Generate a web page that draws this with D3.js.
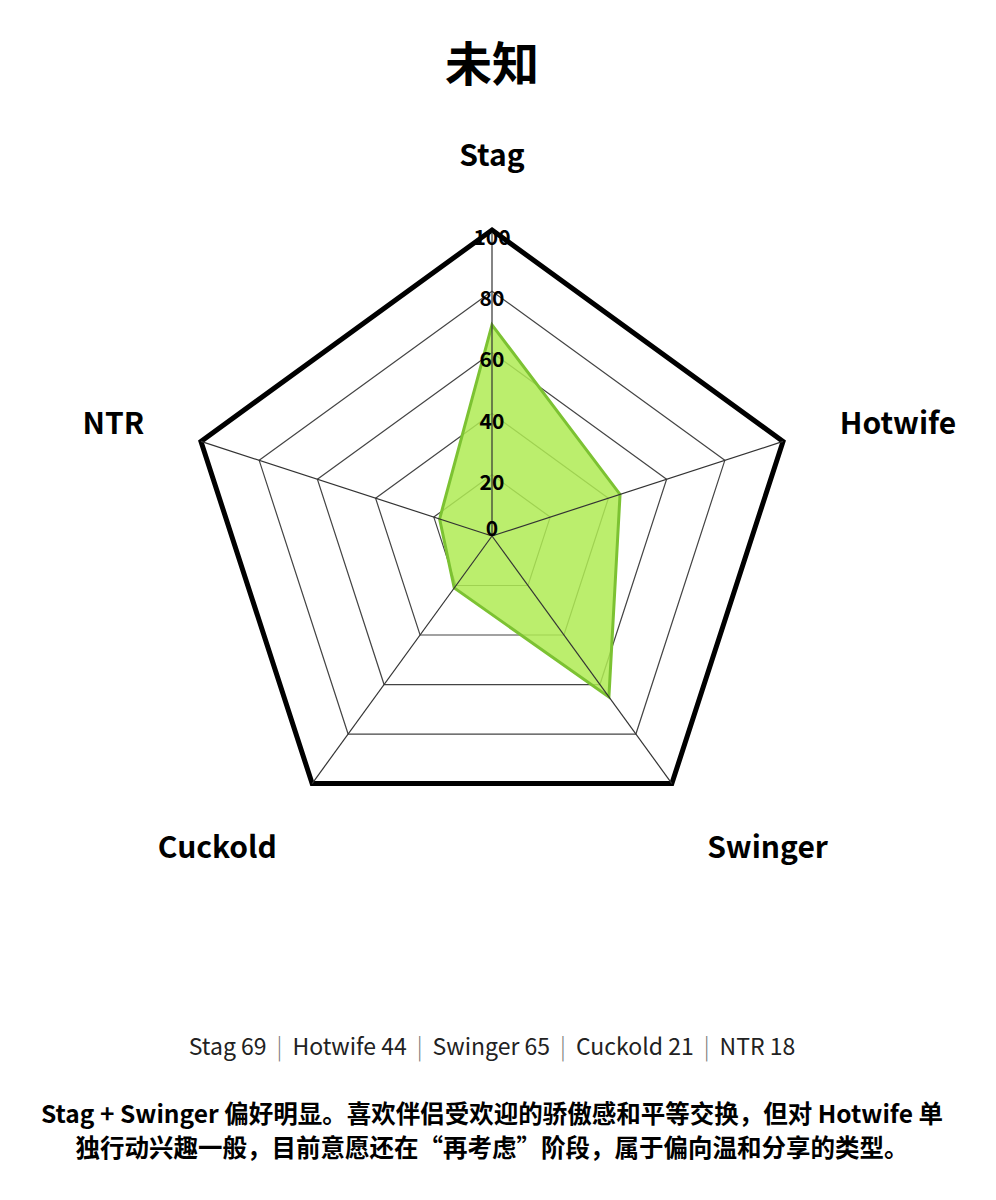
<!DOCTYPE html>
<html><head><meta charset="utf-8">
<script src="https://cdn.jsdelivr.net/npm/d3@7"></script>
<style>
body{margin:0;background:#fff;}
svg{display:block;font-family:"Noto Sans CJK SC","Noto Sans",sans-serif;}
</style></head>
<body>
<svg id="chart" width="996" height="1200"></svg>
<script>
const title = "未知";
const categories = ["Stag","Hotwife","Swinger","Cuckold","NTR"];
const values = [69,44,65,21,18];
const tickValues = [0,20,40,60,80,100];
const descLines = ["Stag + Swinger 偏好明显。喜欢伴侣受欢迎的骄傲感和平等交换，但对 Hotwife 单",
                   "独行动兴趣一般，目前意愿还在“再考虑”阶段，属于偏向温和分享的类型。"];

const svg = d3.select("#chart");
const cx = 492, cy = 536, R = 306;
const r = d3.scaleLinear().domain([0,100]).range([0,R]);
const ang = d3.scaleLinear().domain([0,categories.length]).range([0,2*Math.PI]);
const pt = (i, rad) => [cx + rad*Math.sin(ang(i)), cy - rad*Math.cos(ang(i))];

svg.append("text").attr("x",cx).attr("y",60).attr("text-anchor","middle")
  .attr("dominant-baseline","central")
  .attr("font-size",47).attr("font-weight",700).attr("fill","#000").text(title);

const g = svg.append("g");
// grid rings
tickValues.filter(v=>v>0).forEach(v=>{
  g.append("polygon")
    .attr("points", categories.map((c,i)=>pt(i,r(v)).join(",")).join(" "))
    .attr("fill","none")
    .attr("stroke", v===100 ? "#000" : "#444")
    .attr("stroke-width", v===100 ? 5 : 1.2);
});
// data polygon
const line = d3.lineRadial().angle((d,i)=>ang(i)).radius(d=>r(d)).curve(d3.curveLinearClosed);
g.append("path").attr("transform",`translate(${cx},${cy})`)
  .attr("d", line(values))
  .attr("fill","#afeb54").attr("fill-opacity",0.85)
  .attr("stroke","#7cc232").attr("stroke-width",3).attr("stroke-linejoin","miter");
// spokes
categories.forEach((c,i)=>{
  const [x,y] = pt(i,r(100));
  g.append("line").attr("x1",cx).attr("y1",cy).attr("x2",x).attr("y2",y)
    .attr("stroke","#333").attr("stroke-width",1.2);
});
// tick labels
tickValues.forEach(v=>{
  const y = v===0 ? cy-9 : cy - r(v) + 6;
  g.append("text").attr("x",cx).attr("y",y).attr("text-anchor","middle")
    .attr("dominant-baseline","central")
    .attr("font-size",21).attr("font-weight",700).attr("fill","#000").text(v);
});
// axis labels
categories.forEach((c,i)=>{
  const a = ang(i);
  const s = Math.sin(a), co = Math.cos(a);
  let x, y, anchor;
  if (Math.abs(s) < 0.01) { [x,y] = pt(i,383); anchor = "middle"; }
  else if (co > 0) { [x,y] = pt(i,372); anchor = s>0 ? "start" : "end"; x += s>0 ? -6 : 6; }
  else { [x,y] = pt(i,366); anchor = s>0 ? "start" : "end"; y = cy + 309; }
  g.append("text").attr("x",x).attr("y",y)
    .attr("text-anchor",anchor).attr("dominant-baseline","central")
    .attr("font-size",30).attr("font-weight",700).attr("fill","#000").text(c);
});

// summary line
const sum = svg.append("text").attr("x",cx).attr("y",1045).attr("text-anchor","middle")
  .attr("dominant-baseline","central").attr("font-size",23).attr("fill","#222");
categories.forEach((c,i)=>{
  if(i>0) {
    sum.append("tspan").attr("dx",10).attr("fill","#777").attr("font-weight",300).text("|");
    sum.append("tspan").attr("dx",10).text(`${c} ${values[i]}`);
  } else sum.append("tspan").text(`${c} ${values[i]}`);
});

// description (one text block, two lines)
const desc = svg.append("text").attr("text-anchor","middle")
  .attr("font-size",24.5).attr("font-weight",700).attr("fill","#000");
descLines.forEach((l,i)=>{
  desc.append("tspan").attr("x",cx).attr("y",1123 + i*34).text(l);
});
</script>
</body></html>
